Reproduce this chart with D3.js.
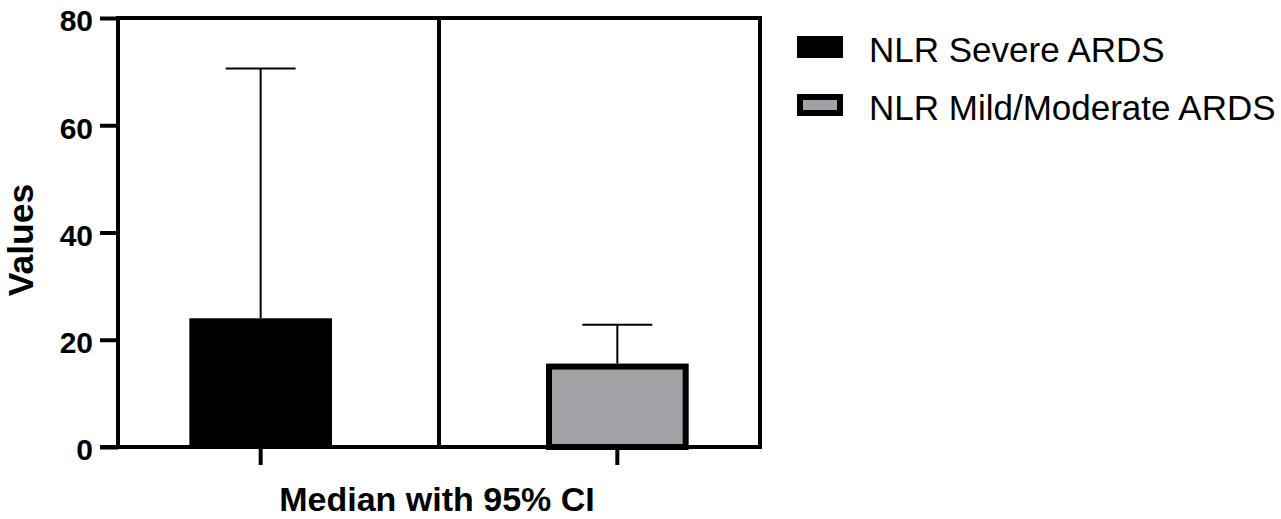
<!DOCTYPE html>
<html>
<head>
<meta charset="utf-8">
<script src="https://cdn.jsdelivr.net/npm/d3@7/dist/d3.min.js"></script>
<style>
  html, body { margin: 0; padding: 0; background: #fff; }
  svg { display: block; font-family: "Liberation Sans", Arial, sans-serif; }
</style>
</head>
<body>
<svg id="chart" width="1281" height="519"></svg>
<script>
// ---- data ----
const categories = ["NLR Severe ARDS", "NLR Mild/Moderate ARDS"];
const medians = [24, 15];
const upperCI = [70.6, 22.8];
const yTicks = [0, 20, 40, 60, 80];
const fills = ["#000000", "#a2a1a5"];
const yLabel = "Values";
const xLabel = "Median with 95% CI";

(function () {
// ---- layout ----
const svg = d3.select("#chart");
const pL = 118, pR = 760, pT = 18, pB = 447;
const axisW = 4;

const x = d3.scaleBand().domain(categories).range([pL, pR])
  .paddingInner(0.6).paddingOuter(0.2);
const y = d3.scaleLinear().domain([0, 80]).range([pB, pT]);

// bars
const bw = x.bandwidth();
const g = svg.append("g");
categories.forEach((c, i) => {
  const x0 = x(c);
  if (i === 0) {
    g.append("rect").attr("x", x0).attr("y", y(medians[i]))
      .attr("width", bw).attr("height", y(0) - y(medians[i]))
      .attr("fill", fills[i]);
  } else {
    const sw = 6;
    g.append("rect").attr("x", x0 + sw / 2).attr("y", y(medians[i]))
      .attr("width", bw - sw).attr("height", y(0) - y(medians[i]))
      .attr("fill", fills[i]).attr("stroke", "#000").attr("stroke-width", sw);
  }
  // error bar (upper only)
  const cx = x0 + bw / 2;
  const capHalf = bw * 0.245;
  const topY = y(medians[i]) - (i === 0 ? 0 : 3);
  g.append("line").attr("x1", cx).attr("x2", cx)
    .attr("y1", topY).attr("y2", y(upperCI[i]))
    .attr("stroke", "#000").attr("stroke-width", 2);
  g.append("line").attr("x1", cx - capHalf).attr("x2", cx + capHalf)
    .attr("y1", y(upperCI[i])).attr("y2", y(upperCI[i]))
    .attr("stroke", "#000").attr("stroke-width", 2);
});

// divider between groups
const c0 = x(categories[0]) + bw / 2, c1 = x(categories[1]) + bw / 2;
svg.append("line").attr("x1", (c0 + c1) / 2).attr("x2", (c0 + c1) / 2)
  .attr("y1", pT).attr("y2", pB)
  .attr("stroke", "#000").attr("stroke-width", axisW);

// frame: top & right
svg.append("path")
  .attr("d", `M${pL},${pT}H${pR}V${pB}`)
  .attr("fill", "none").attr("stroke", "#000").attr("stroke-width", axisW)
  .attr("stroke-linejoin", "miter");

// y axis
const yAxis = svg.append("g").attr("transform", `translate(${pL},0)`)
  .call(d3.axisLeft(y).tickValues(yTicks).tickSize(18).tickPadding(6).tickFormat(d3.format("d")));
yAxis.select(".domain").attr("stroke-width", axisW)
  .attr("d", `M0,${pB + axisW/2}V${pT - axisW/2}`);
yAxis.selectAll(".tick line").attr("stroke-width", axisW);
yAxis.selectAll(".tick text").attr("font-size", 30).attr("font-weight", "bold")
  .attr("fill", "#000").attr("dy", "0.36em").attr("transform", "translate(-1,2)");

// x axis
const xAxis = svg.append("g").attr("transform", `translate(0,${pB})`)
  .call(d3.axisBottom(x).tickSize(18).tickFormat(""));
xAxis.select(".domain").attr("stroke-width", axisW)
  .attr("d", `M${pL - 18},0H${pR + axisW/2}`);
xAxis.selectAll(".tick line").attr("stroke-width", axisW);

// axis titles
svg.append("text").attr("x", (pL + pR) / 2 - 2).attr("y", 511)
  .attr("text-anchor", "middle").attr("font-size", 34).attr("font-weight", "bold")
  .text(xLabel);
svg.append("text")
  .attr("transform", `translate(33,240) rotate(-90)`)
  .attr("text-anchor", "middle").attr("font-size", 35.5).attr("font-weight", "bold")
  .text(yLabel);

// legend
const lg = svg.append("g");
categories.forEach((c, i) => {
  const ly = 36 + i * 58;
  if (i === 0) {
    lg.append("rect").attr("x", 797).attr("y", ly).attr("width", 46).attr("height", 22)
      .attr("fill", fills[i]);
  } else {
    lg.append("rect").attr("x", 800).attr("y", ly + 3).attr("width", 40).attr("height", 16)
      .attr("fill", fills[i]).attr("stroke", "#000").attr("stroke-width", 6);
  }
  lg.append("text").attr("x", 869).attr("y", ly + 26)
    .attr("font-size", 35).attr("fill", "#000").text(c);
});
})();
</script>
</body>
</html>
